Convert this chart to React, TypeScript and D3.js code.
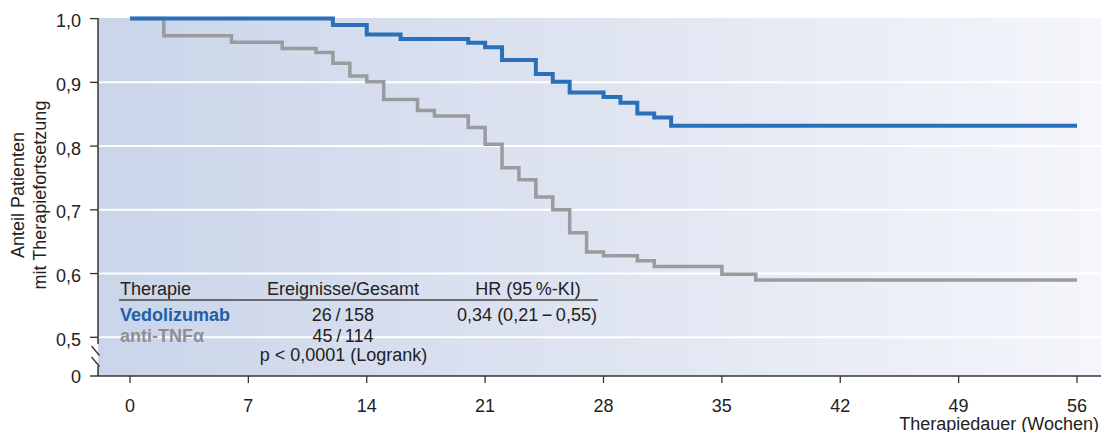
import React, { useEffect, useRef } from "react";
import * as d3 from "d3";

// Kaplan-Meier Stufen (Woche, Anteil)
const vedoWeeks = [0, 12, 14, 16, 20, 21, 22, 24, 25, 26, 28, 29, 30, 31, 32, 56];
const vedoValues = [1, 0.99, 0.975, 0.968, 0.962, 0.955, 0.935, 0.913, 0.901, 0.884, 0.877, 0.868, 0.851, 0.845, 0.832, 0.832];

const tnfWeeks = [0, 2, 6, 9, 11, 12, 13, 14, 15, 17, 18, 20, 21, 22, 23, 24, 25, 26, 27, 28, 30, 31, 35, 37, 56];
const tnfValues = [1, 0.973, 0.963, 0.953, 0.947, 0.93, 0.91, 0.901, 0.873, 0.856, 0.847, 0.829, 0.803, 0.766, 0.747, 0.72, 0.7, 0.664, 0.634, 0.628, 0.62, 0.611, 0.599, 0.59, 0.59];

const xTicks = [0, 7, 14, 21, 28, 35, 42, 49, 56];
const yTicks = [0.5, 0.6, 0.7, 0.8, 0.9, 1.0];

const tableHeader = ["Therapie", "Ereignisse/Gesamt", "HR (95\u2009%-KI)"];
const tableRows = [
    { name: "Vedolizumab", events: "26\u2009/\u2009158", hr: "0,34 (0,21\u2009\u2212\u20090,55)" },
    { name: "anti-TNF\u03b1", events: "45\u2009/\u2009114", hr: "" },
];
const pText = "p < 0,0001 (Logrank)";

const App = () => {
    const ref = useRef(null);

    useEffect(() => {
        const svg = d3.select(ref.current);
        svg.selectAll("*").remove();

        const width = 1101;
        const left = 98;
        const top = 18;
        const bottom = 376;
        const blue = "#2a6fba";
        const grey = "#9a9b9d";
        const font = "'Liberation Sans', Arial, sans-serif";
        const fs = 18;

        const xScale = d3.scaleLinear().domain([0, 56]).range([130, 1077]);
        const yScale = d3.scaleLinear().domain([0.5, 1]).range([337.3, 18.6]);

        const defs = svg.append("defs");
        const grad = defs.append("linearGradient").attr("id", "bg").attr("x1", "0").attr("x2", "1").attr("y1", "0").attr("y2", "0");
        grad.append("stop").attr("offset", "0").attr("stop-color", "#cad5ea");
        grad.append("stop").attr("offset", "0.5").attr("stop-color", "#dfe4f1");
        grad.append("stop").attr("offset", "1").attr("stop-color", "#f4f6fb");

        svg.append("rect")
            .attr("x", left)
            .attr("y", top)
            .attr("width", width - left)
            .attr("height", bottom - top)
            .attr("fill", "url(#bg)");

        // weisse Gitterlinien
        svg.append("g")
            .selectAll("line")
            .data(yTicks.filter(d => d < 1))
            .enter()
            .append("line")
            .attr("x1", left)
            .attr("x2", width)
            .attr("y1", d => yScale(d))
            .attr("y2", d => yScale(d))
            .attr("stroke", "white")
            .attr("stroke-width", 2);

        // Kurven
        const line = d3.line<any>()
            .x(d => xScale(d[0]))
            .y(d => yScale(d[1]))
            .curve(d3.curveStepAfter);

        svg.append("path")
            .attr("d", line(tnfWeeks.map((w, i) => [w, tnfValues[i]])))
            .attr("fill", "none")
            .attr("stroke", grey)
            .attr("stroke-width", 3.5);

        svg.append("path")
            .attr("d", line(vedoWeeks.map((w, i) => [w, vedoValues[i]])))
            .attr("fill", "none")
            .attr("stroke", blue)
            .attr("stroke-width", 4);

        // Achsen
        const axisColor = "#333";
        svg.append("line").attr("x1", left).attr("x2", left).attr("y1", top).attr("y2", 344)
            .attr("stroke", axisColor).attr("stroke-width", 1.5);
        svg.append("line").attr("x1", left).attr("x2", left).attr("y1", 366).attr("y2", bottom)
            .attr("stroke", axisColor).attr("stroke-width", 1.5);
        [346, 357].forEach(y => {
            svg.append("line").attr("x1", 91.5).attr("x2", 99.5).attr("y1", y).attr("y2", y + 9.5)
                .attr("stroke", axisColor).attr("stroke-width", 1.3);
        });
        svg.append("line").attr("x1", 90).attr("x2", width).attr("y1", bottom).attr("y2", bottom)
            .attr("stroke", axisColor).attr("stroke-width", 1.5);

        const yAxis = svg.append("g").attr("font-family", font).attr("font-size", fs).attr("fill", "#222");
        yTicks.forEach(t => {
            yAxis.append("line").attr("x1", 90).attr("x2", left).attr("y1", yScale(t)).attr("y2", yScale(t))
                .attr("stroke", axisColor).attr("stroke-width", 1.3);
            yAxis.append("text")
                .attr("x", 81)
                .attr("y", yScale(t) + 8.5)
                .attr("text-anchor", "end")
                .text(d3.format(".1f")(t).replace(".", ","));
        });
        yAxis.append("text").attr("x", 81).attr("y", bottom + 6.5).attr("text-anchor", "end").text("0");

        const xAxis = svg.append("g").attr("font-family", font).attr("font-size", fs).attr("fill", "#222");
        xTicks.forEach(t => {
            xAxis.append("line").attr("x1", xScale(t)).attr("x2", xScale(t)).attr("y1", bottom).attr("y2", 383)
                .attr("stroke", axisColor).attr("stroke-width", 1.3);
            xAxis.append("text")
                .attr("x", xScale(t))
                .attr("y", 411.5)
                .attr("text-anchor", "middle")
                .text(t);
        });

        svg.append("text")
            .text("Therapiedauer (Wochen)")
            .attr("x", 1099)
            .attr("y", 429.5)
            .attr("text-anchor", "end")
            .attr("font-family", font)
            .attr("font-size", fs)
            .attr("fill", "#222");

        const yTitle = svg.append("g")
            .attr("transform", "translate(0,195) rotate(-90)")
            .attr("font-family", font)
            .attr("font-size", fs)
            .attr("fill", "#222")
            .attr("text-anchor", "middle");
        yTitle.append("text").attr("x", 0).attr("y", 23.5).text("Anteil Patienten");
        yTitle.append("text").attr("x", 0).attr("y", 46).text("mit Therapiefortsetzung");

        // Tabelle
        const table = svg.append("g").attr("font-family", font).attr("font-size", fs).attr("fill", "#222");
        const colX = [120, 343, 528];
        table.append("text").attr("x", colX[0]).attr("y", 294.5).text(tableHeader[0]);
        table.append("text").attr("x", colX[1]).attr("y", 294.5).attr("text-anchor", "middle").text(tableHeader[1]);
        table.append("text").attr("x", colX[2]).attr("y", 294.5).attr("text-anchor", "middle").text(tableHeader[2]);
        table.append("line").attr("x1", 119).attr("x2", 598).attr("y1", 300).attr("y2", 300)
            .attr("stroke", "#444").attr("stroke-width", 1.3);

        const rowY = [321, 341.5];
        const rowColors = ["#1f5fa8", "#8e8f91"];
        tableRows.forEach((r, i) => {
            table.append("text").attr("x", colX[0]).attr("y", rowY[i]).attr("font-weight", "bold")
                .attr("fill", rowColors[i]).text(r.name);
            table.append("text").attr("x", colX[1]).attr("y", rowY[i]).attr("text-anchor", "middle").text(r.events);
            if (r.hr) table.append("text").attr("x", colX[2] - 1).attr("y", rowY[i]).attr("text-anchor", "middle").text(r.hr);
        });
        table.append("text").attr("x", 343.5).attr("y", 361).attr("text-anchor", "middle").text(pText);
    }, []);

    return (
        <svg
            ref={ref}
            width={1101}
            height={432}
            style={{ position: "absolute", left: 0, top: 0, background: "white" }}
        />
    );
};

export default App;
